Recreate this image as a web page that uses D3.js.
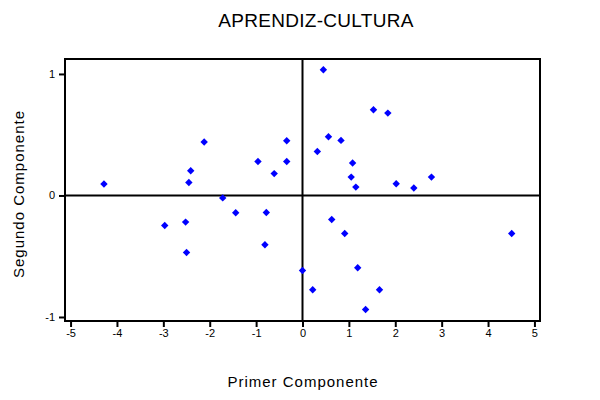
<!DOCTYPE html>
<html><head><meta charset="utf-8">
<script src="https://cdn.jsdelivr.net/npm/d3@7"></script>
<style>body{margin:0;background:#fff}svg{display:block}text{font-family:"Liberation Sans",Arial,sans-serif;fill:#000}</style>
</head><body><svg id="c" width="600" height="400"></svg>
<script>
const xVals = [-4.28,-2.41,-2.45,-2.12,-1.72,-0.96,-0.61,-0.34,-0.34,
  0.45,1.53,1.84,0.56,0.83,0.32,1.08,1.05,1.15,2.02,2.40,2.78,
  -2.97,-2.52,-2.50,-1.44,-0.78,-0.81,0.00,
  0.63,0.91,4.51,1.19,0.22,1.66,1.36];
const yVals = [0.094,0.203,0.107,0.44,-0.02,0.28,0.18,0.45,0.28,
  1.035,0.705,0.678,0.483,0.453,0.362,0.267,0.151,0.069,0.096,0.061,0.151,
  -0.247,-0.219,-0.469,-0.142,-0.14,-0.406,-0.617,
  -0.198,-0.313,-0.313,-0.595,-0.776,-0.776,-0.938];
const xTicks = [-5,-4,-3,-2,-1,0,1,2,3,4,5];
const yTicks = [-1,0,1];
const title = "APRENDIZ-CULTURA";
const xLabel = "Primer Componente";
const yLabel = "Segundo Componente";

const svg = d3.select("#c");
const L=65,R=540,T=59,B=321;
const x = d3.scaleLinear().domain([-5.12,5.12]).range([L,R]);
const y = d3.scaleLinear().domain([-1.033,1.123]).range([B,T]);

const gx = svg.append("g").attr("transform",`translate(0,${B})`)
  .call(d3.axisBottom(x).tickValues(xTicks).tickSize(6).tickPadding(2).tickFormat(d=>String(d)));
const gy = svg.append("g").attr("transform",`translate(${L},0)`)
  .call(d3.axisLeft(y).tickValues(yTicks).tickSize(6).tickPadding(4).tickFormat(d=>String(d)));
[gx,gy].forEach(g=>{
  g.select(".domain").remove();
  g.selectAll(".tick line").attr("stroke","#000").attr("stroke-width",2);
  g.selectAll(".tick text").style("font-size","11px").style("font-family","Liberation Sans, Arial, sans-serif").attr("fill","#000");
});

svg.append("line").attr("x1",x(0)).attr("x2",x(0)).attr("y1",T).attr("y2",B).attr("stroke","#000").attr("stroke-width",2);
svg.append("line").attr("x1",L).attr("x2",R).attr("y1",y(0)).attr("y2",y(0)).attr("stroke","#000").attr("stroke-width",2);
svg.append("rect").attr("x",L).attr("y",T).attr("width",R-L).attr("height",B-T).attr("fill","none").attr("stroke","#000").attr("stroke-width",2);

const r=3.7;
svg.append("g").selectAll("path").data(xVals.map((v,i)=>[v,yVals[i]])).join("path")
  .attr("d",d=>{const cx=x(d[0]),cy=y(d[1]);return `M${cx},${cy-r}L${cx+r},${cy}L${cx},${cy+r}L${cx-r},${cy}Z`;})
  .attr("fill","#0000ff");

svg.append("text").attr("x",316).attr("y",27).attr("text-anchor","middle").style("font-size","19px").style("letter-spacing","0.3px").text(title);
svg.append("text").attr("x",303).attr("y",387).attr("text-anchor","middle").style("font-size","15px").style("letter-spacing","1px").text(xLabel);
svg.append("text").attr("transform","translate(24,194) rotate(-90)").attr("text-anchor","middle").style("font-size","15px").style("letter-spacing","1px").text(yLabel);
</script></body></html>
